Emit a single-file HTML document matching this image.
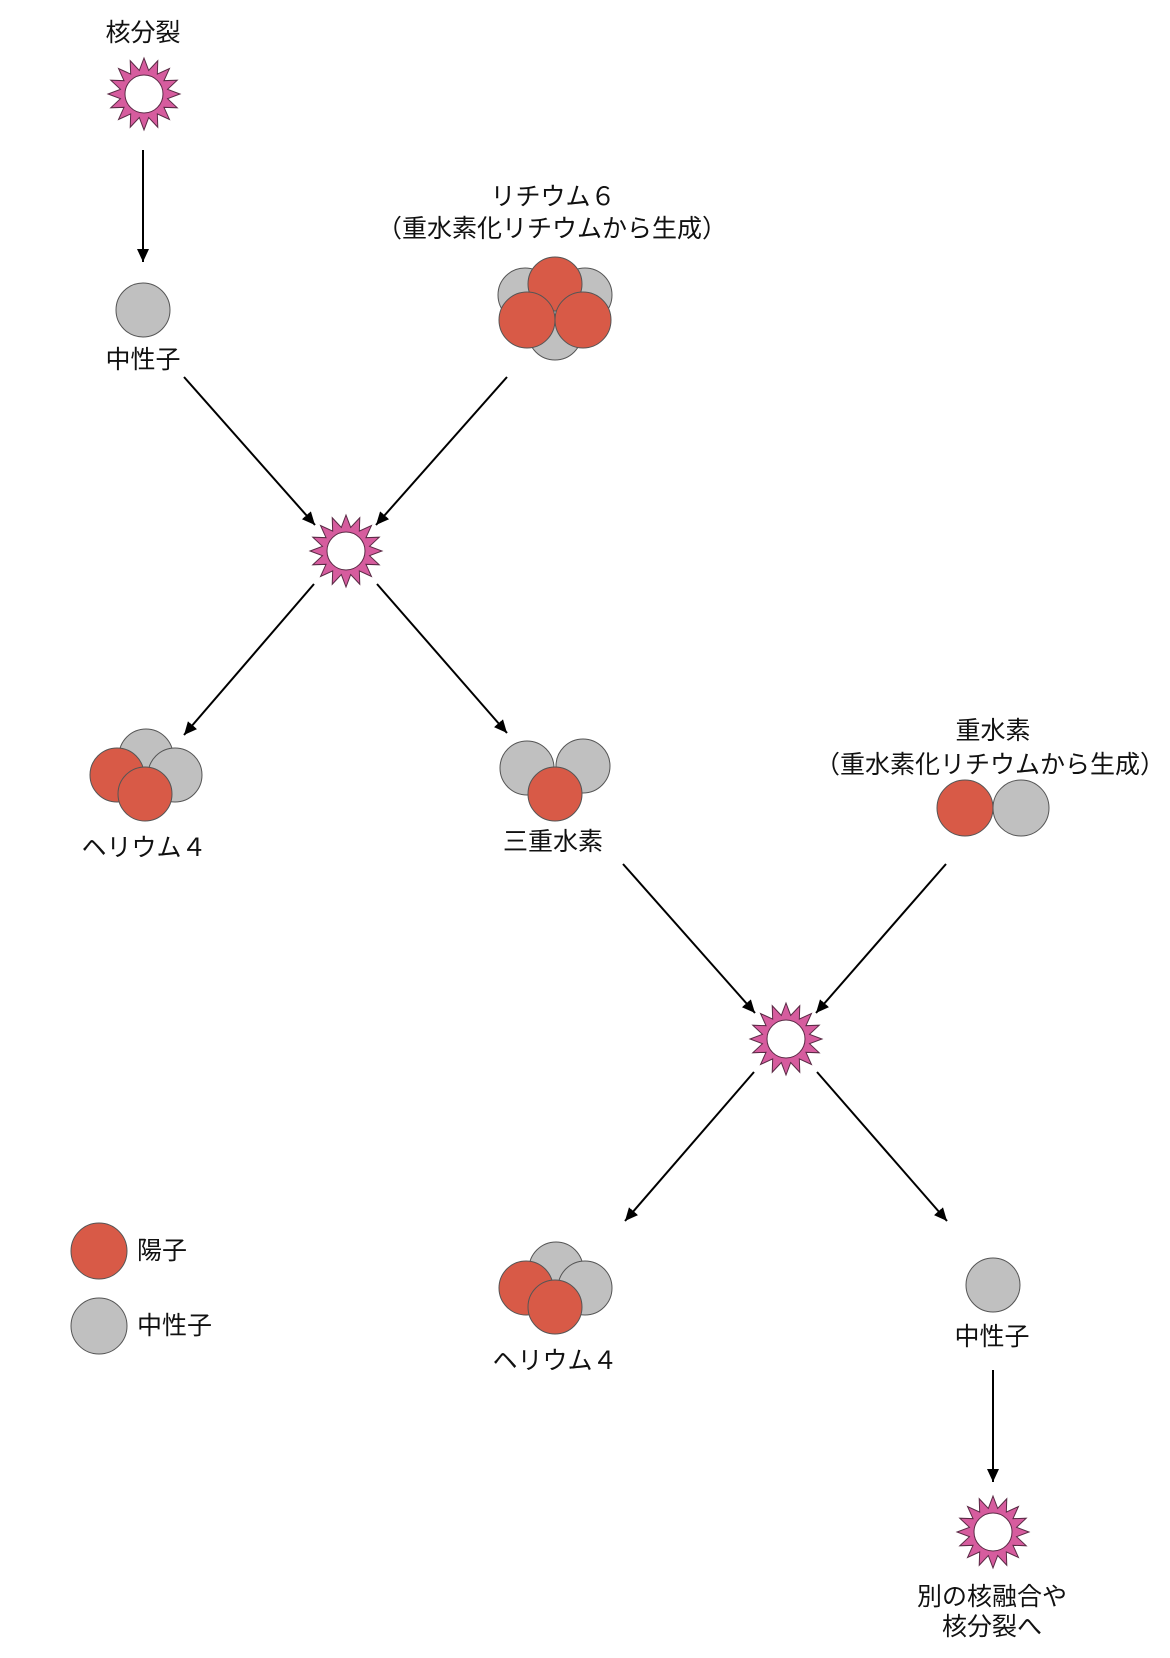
<!DOCTYPE html>
<html>
<head>
<meta charset="utf-8">
<style>
  html,body{margin:0;padding:0;background:#fff;}
  svg{display:block;}
  text{font-family:"Liberation Sans","Noto Sans CJK JP",sans-serif;font-size:25px;fill:#111;}
</style>
</head>
<body>
<svg width="1170" height="1658" viewBox="0 0 1170 1658" xmlns="http://www.w3.org/2000/svg">
  <defs>
    <marker id="ah" markerWidth="14" markerHeight="12" refX="13" refY="6" orient="auto" markerUnits="userSpaceOnUse">
      <path d="M0,0 L13,6 L0,12 z" fill="#000"/>
    </marker>
    <g id="star">
      <polygon fill="#d65c9e" stroke="#5a2a45" stroke-width="1" points="0,-36 4.68,-23.54 13.78,-33.26 13.33,-19.96 25.46,-25.46 19.96,-13.33 33.26,-13.78 23.54,-4.68 36,0 23.54,4.68 33.26,13.78 19.96,13.33 25.46,25.46 13.33,19.96 13.78,33.26 4.68,23.54 0,36 -4.68,23.54 -13.78,33.26 -13.33,19.96 -25.46,25.46 -19.96,13.33 -33.26,13.78 -23.54,4.68 -36,0 -23.54,-4.68 -33.26,-13.78 -19.96,-13.33 -25.46,-25.46 -13.33,-19.96 -13.78,-33.26 -4.68,-23.54"/>
      <circle r="19" fill="#fff" stroke="#5a2a45" stroke-width="1"/>
    </g>
  </defs>

  <!-- arrows -->
  <g stroke="#000" stroke-width="2" marker-end="url(#ah)">
    <line x1="143" y1="150" x2="143" y2="262"/>
    <line x1="184" y1="377" x2="315" y2="525"/>
    <line x1="507" y1="377" x2="376" y2="525"/>
    <line x1="314" y1="584" x2="184" y2="735"/>
    <line x1="377" y1="584" x2="507" y2="733"/>
    <line x1="623" y1="864" x2="755" y2="1013"/>
    <line x1="946" y1="864" x2="816" y2="1013"/>
    <line x1="754" y1="1072" x2="625" y2="1221"/>
    <line x1="817" y1="1072" x2="947" y2="1221"/>
    <line x1="993" y1="1370" x2="993" y2="1482"/>
  </g>

  <!-- stars -->
  <use href="#star" x="144" y="94"/>
  <use href="#star" x="346" y="551"/>
  <use href="#star" x="786" y="1039"/>
  <use href="#star" x="993" y="1532"/>

  <g stroke="#555" stroke-width="1">
    <!-- neutron 1 -->
    <circle cx="143" cy="310" r="27" fill="#c0c0c0"/>

    <!-- lithium 6 -->
    <circle cx="525" cy="295" r="27" fill="#c0c0c0"/>
    <circle cx="585" cy="295" r="27" fill="#c0c0c0"/>
    <circle cx="555" cy="333" r="27" fill="#c0c0c0"/>
    <circle cx="555" cy="284" r="27" fill="#d85a47"/>
    <circle cx="527" cy="320" r="28" fill="#d85a47"/>
    <circle cx="583" cy="320" r="28" fill="#d85a47"/>

    <!-- helium 4 top -->
    <circle cx="146" cy="756" r="27" fill="#c0c0c0"/>
    <circle cx="175" cy="775" r="27" fill="#c0c0c0"/>
    <circle cx="117" cy="775" r="27" fill="#d85a47"/>
    <circle cx="145" cy="794" r="27" fill="#d85a47"/>

    <!-- tritium -->
    <circle cx="527" cy="768" r="27" fill="#c0c0c0"/>
    <circle cx="583" cy="766" r="27" fill="#c0c0c0"/>
    <circle cx="555" cy="794" r="27" fill="#d85a47"/>

    <!-- deuterium -->
    <circle cx="965" cy="808" r="28" fill="#d85a47"/>
    <circle cx="1021" cy="808" r="28" fill="#c0c0c0"/>

    <!-- helium 4 bottom -->
    <circle cx="556" cy="1269" r="27" fill="#c0c0c0"/>
    <circle cx="585" cy="1288" r="27" fill="#c0c0c0"/>
    <circle cx="526" cy="1288" r="27" fill="#d85a47"/>
    <circle cx="555" cy="1307" r="27" fill="#d85a47"/>

    <!-- neutron bottom -->
    <circle cx="993" cy="1285" r="27" fill="#c0c0c0"/>

    <!-- legend -->
    <circle cx="99" cy="1251" r="28" fill="#d85a47"/>
    <circle cx="99" cy="1326" r="28" fill="#c0c0c0"/>
  </g>

  <!-- labels -->
  <g text-anchor="middle" dominant-baseline="central">
    <text x="143" y="33">核分裂</text>
    <text x="143" y="360">中性子</text>
    <text x="553" y="197">リチウム６</text>
    <text x="552" y="229">（重水素化リチウムから生成）</text>
    <text x="144" y="848">ヘリウム４</text>
    <text x="553" y="842">三重水素</text>
    <text x="993" y="731">重水素</text>
    <text x="990" y="765">（重水素化リチウムから生成）</text>
    <text x="555" y="1361">ヘリウム４</text>
    <text x="992" y="1337">中性子</text>
    <text x="992" y="1597">別の核融合や</text>
    <text x="992" y="1627">核分裂へ</text>
  </g>
  <g dominant-baseline="central">
    <text x="137" y="1251">陽子</text>
    <text x="137" y="1326">中性子</text>
  </g>
</svg>
</body>
</html>
